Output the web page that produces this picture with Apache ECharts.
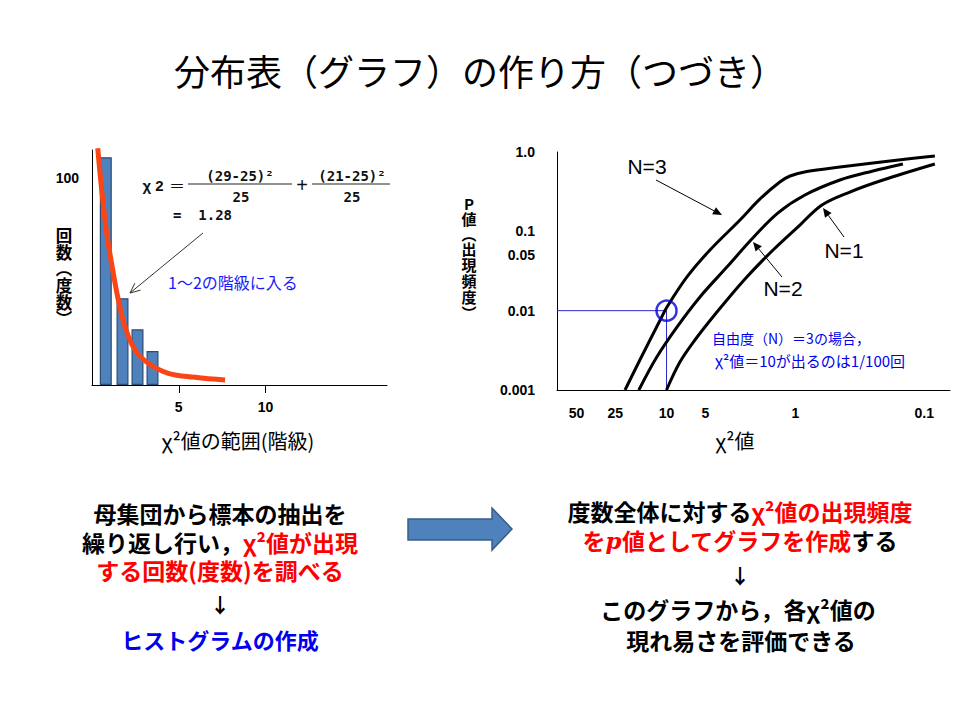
<!DOCTYPE html>
<html><head><meta charset="utf-8">
<script src="https://cdn.jsdelivr.net/npm/echarts@6/dist/echarts.min.js"></script>
<style>html,body{margin:0;padding:0;background:#fff}#c{width:960px;height:720px}</style>
</head><body><div id="c"></div>
<script>
// ---- Left: histogram of chi-square values ----
const histClassX = [0.795, 1.758, 2.622, 3.486];
const histCounts = [110, 41.9, 26.9, 16.4];
const curveX = [0.33, 0.56, 0.85, 1.23, 1.52, 1.90, 2.48, 3.24, 4.40, 5.94, 7.67];
const curveY = [114.3, 94.2, 73.3, 53.9, 41.0, 28.2, 16.9, 10.5, 5.65, 3.72, 2.41];
const histXTicks = [5, 10];
const histXTickLabels = ['5', '10'];
const histYTicks = [100];
const histYTickLabels = ['100'];

// ---- Right: p-value vs chi-square ----
const chiTicks = [50, 25, 10, 5, 1, 0.1];
const chiTickLabels = ['50', '25', '10', '5', '1', '0.1'];
const pTicks = [1, 0.1, 0.05, 0.01, 0.001];
const pTickLabels = ['1.0', '0.1', '0.05', '0.01', '0.001'];
const n3Chi = [21.0, 16.1, 11.2, 9.92, 6.94, 4.60, 2.69, 1.88, 1.32, 1.10, 0.814, 0.451, 0.250, 0.136, 0.0827];
const n3P   = [0.001, 0.00239, 0.00762, 0.0111, 0.0266, 0.0582, 0.139, 0.256, 0.418, 0.498, 0.568, 0.647, 0.727, 0.816, 0.890];
const n2Chi = [16.4, 11.9, 8.30, 5.50, 3.40, 2.14, 1.37, 0.843, 0.451, 0.250, 0.1464];
const n2P   = [0.001, 0.00261, 0.00622, 0.0149, 0.0355, 0.0824, 0.170, 0.287, 0.444, 0.576, 0.706];
const n1Chi = [10.0, 7.87, 6.02, 4.06, 2.46, 1.49, 0.922, 0.622, 0.378, 0.209, 0.0827];
const n1P   = [0.001, 0.00225, 0.00427, 0.00962, 0.0251, 0.0582, 0.120, 0.215, 0.313, 0.444, 0.706];
const markChi = 10;
const markP = 0.01;

// axis extents (log10 units) for the right chart
const chiLogMin = -1.2, chiLogMax = 1.85;
const pLogMin = -3, pLogMax = 0;

const L10 = Math.log10;
const pair = (xs, ys) => xs.map((x, i) => [x, ys[i]]);
const logPair = (xs, ys) => xs.map((x, i) => [L10(x), L10(ys[i])]);
const lookup = (ticks, labels) => v => {
  for (let i = 0; i < ticks.length; i++) if (Math.abs(L10(ticks[i]) - v) < 1e-6) return labels[i];
  return '';
};

const CJK = "'Noto Sans CJK JP', sans-serif";
const SANS = "'Liberation Sans', Arial, sans-serif";
const MONO = "'DejaVu Sans Mono', monospace";

function T(x, y, text, st, extra) {
  return Object.assign({ type: 'text', x: x, y: y, z: 100, silent: true,
    style: Object.assign({ text: text, align: 'center', verticalAlign: 'middle', fill: '#000',
      fontSize: 14, fontFamily: CJK, fontWeight: 'normal' }, st || {}) }, extra || {});
}
// upright vertical label: one glyph per text, drawn small and scaled up
function vtext(x, ys, chars, size, scale) {
  return chars.map((c, i) => T(x, ys[i], c, { fontSize: size, fontWeight: 'bold' }, { scaleX: scale, scaleY: scale }));
}
function arrow(x1, y1, x2, y2, head, color, open) {
  const a = Math.atan2(y2 - y1, x2 - x1), w = head * 0.45;
  const bx = x2 - head * Math.cos(a), by = y2 - head * Math.sin(a);
  const p1 = [bx + w * Math.sin(a), by - w * Math.cos(a)];
  const p2 = [bx - w * Math.sin(a), by + w * Math.cos(a)];
  const els = [{ type: 'line', z: 100, silent: true, shape: { x1: x1, y1: y1, x2: open ? x2 : bx, y2: open ? y2 : by },
    style: { stroke: color, lineWidth: 1 } }];
  if (open) els.push({ type: 'polyline', z: 100, silent: true, shape: { points: [p1, [x2, y2], p2] }, style: { stroke: color, lineWidth: 1, fill: null } });
  else els.push({ type: 'polygon', z: 100, silent: true, shape: { points: [p1, [x2, y2], p2] }, style: { fill: color } });
  return els;
}

const red = '#FF0000', blue = '#0000EE';
// bottom paragraphs: drawn at 16px and scaled to look 23px
const FS = 16, SC = { scaleX: 1.4375, scaleY: 1.4375 };
const boldB = { fontSize: FS, fontWeight: 'bold', fontFamily: CJK };
const richR = { r: { fill: red, fontSize: FS, fontWeight: 'bold', fontFamily: CJK },
                k: { fill: '#000', fontSize: FS, fontWeight: 'bold', fontFamily: CJK },
                ri: { fill: red, fontSize: FS, fontWeight: 'bold', fontStyle: 'italic', fontFamily: "'DejaVu Serif', serif" } };

const graphic = [
  T(480, 70, '分布表（グラフ）の作り方（つづき）', { fontSize: 36 }),
  // left chart labels
  ...vtext(64, [235, 252, 268, 285, 302, 318], ['回', '数', '︵', '度', '数', '︶'], 11, 1.5),
  T(238, 440, 'χ²値の範囲(階級)', { fontSize: 20 }),
  T(153, 185, 'χ 2', { fontSize: 15, fontWeight: 'bold', fontFamily: SANS, fill: '#111' }),
  T(177, 185, '＝', { fontSize: 16, fill: '#111' }),
  { type: 'line', z: 100, silent: true, shape: { x1: 188, y1: 184, x2: 292, y2: 184 }, style: { stroke: '#222', lineWidth: 1 } },
  T(240, 176, '(29-25)²', { fontSize: 14, fontWeight: 'bold', fontFamily: MONO, fill: '#111' }),
  T(241, 197, '25', { fontSize: 14, fontWeight: 'bold', fontFamily: MONO, fill: '#111' }),
  T(302, 185, '+', { fontSize: 20, fontFamily: SANS, fill: '#111' }),
  { type: 'line', z: 100, silent: true, shape: { x1: 312, y1: 184, x2: 390, y2: 184 }, style: { stroke: '#222', lineWidth: 1 } },
  T(352, 176, '(21-25)²', { fontSize: 14, fontWeight: 'bold', fontFamily: MONO, fill: '#111' }),
  T(352, 197, '25', { fontSize: 14, fontWeight: 'bold', fontFamily: MONO, fill: '#111' }),
  T(173, 215, '=  1.28', { align: 'left', fontSize: 14, fontWeight: 'bold', fontFamily: MONO, fill: '#111' }),
  T(168, 282, '1～2の階級に入る', { align: 'left', fontSize: 16, fill: '#1a1aff' }),
  ...arrow(203, 233, 130, 293, 10, '#333', true),
  // right chart labels
  ...vtext(469, [203, 218, 233, 248, 264, 280, 296, 312], ['P', '値', '︵', '出', '現', '頻', '度', '︶'], 10, 1.5),
  T(735, 440, 'χ²値', { fontSize: 20 }),
  T(647, 166, 'N=3', { fontSize: 21, fontFamily: SANS }),
  T(783, 288, 'N=2', { fontSize: 21, fontFamily: SANS }),
  T(844, 250, 'N=1', { fontSize: 21, fontFamily: SANS }),
  ...arrow(656, 180, 722, 215, 9, '#000', false),
  ...arrow(782, 277, 753, 242, 9, '#000', false),
  ...arrow(844, 237, 823, 208, 9, '#000', false),
  T(712, 338, '自由度（N）＝3の場合，', { align: 'left', fontSize: 14, fill: blue }),
  T(715, 360, 'χ²値＝10が出るのは1/100回', { align: 'left', fontSize: 15, fill: blue }),
  // middle block arrow
  { type: 'polygon', z: 100, silent: true,
    shape: { points: [[408, 519], [492, 519], [492, 508], [512, 529], [492, 550], [492, 540], [408, 540]] },
    style: { fill: '#4F81BD', stroke: '#385D8A', lineWidth: 1.5 } },
  // bottom left text
  T(220, 513, '母集団から標本の抽出を', boldB, SC),
  T(220, 542, '{k|繰り返し行い，}{r|χ²値が出現}', Object.assign({ rich: richR }, boldB), SC),
  T(220, 570, 'する回数(度数)を調べる', Object.assign({}, boldB, { fill: red }), SC),
  T(220, 604, '↓', Object.assign({}, boldB, { fontSize: 14 }), SC),
  T(220, 639, 'ヒストグラムの作成', Object.assign({}, boldB, { fontSize: 15.3, fill: blue }), SC),
  // bottom right text
  T(740, 511, '{k|度数全体に対する}{r|χ²値の出現頻度}', Object.assign({ rich: richR }, boldB), SC),
  T(740, 540, '{r|を}{ri|p}{r|値としてグラフを作成}{k|する}', Object.assign({ rich: richR }, boldB), SC),
  T(740, 575, '↓', Object.assign({}, boldB, { fontSize: 14 }), SC),
  T(738, 609, 'このグラフから，各χ²値の', boldB, SC),
  T(741, 640, '現れ易さを評価できる', boldB, SC)
];

const axisLabelBase = { color: '#000', fontSize: 14, fontWeight: 'bold', fontFamily: SANS };
const axLine = { show: true, onZero: false, lineStyle: { color: '#000', width: 1 } };

const option = {
  animation: false,
  backgroundColor: '#fff',
  grid: [
    { left: 92, top: 150, width: 295, height: 235, outerBoundsMode: 'none' },
    { left: 557, top: 152, width: 393, height: 238, outerBoundsMode: 'none' }
  ],
  xAxis: [
    { gridIndex: 0, type: 'value', min: 0, max: 17, axisLine: axLine,
      axisTick: { show: true, customValues: histXTicks, length: 8, lineStyle: { color: '#000' } },
      axisLabel: Object.assign({ customValues: histXTicks, margin: 15,
        formatter: v => histXTickLabels[histXTicks.indexOf(v)] }, axisLabelBase),
      splitLine: { show: false } },
    { gridIndex: 1, type: 'value', inverse: true, min: chiLogMin, max: chiLogMax, axisLine: axLine,
      axisTick: { show: false },
      axisLabel: Object.assign({ customValues: chiTicks.map(L10), margin: 16,
        formatter: lookup(chiTicks, chiTickLabels) }, axisLabelBase),
      splitLine: { show: false } }
  ],
  yAxis: [
    { gridIndex: 0, type: 'value', min: 0, max: 113.5, axisLine: axLine, axisTick: { show: false },
      axisLabel: Object.assign({ customValues: histYTicks, margin: 13,
        formatter: v => histYTickLabels[histYTicks.indexOf(v)] }, axisLabelBase),
      splitLine: { show: false } },
    { gridIndex: 1, type: 'value', min: pLogMin, max: pLogMax, axisLine: axLine, axisTick: { show: false },
      axisLabel: Object.assign({ customValues: pTicks.map(L10), margin: 22,
        formatter: lookup(pTicks, pTickLabels) }, axisLabelBase),
      splitLine: { show: false } }
  ],
  series: [
    { type: 'bar', xAxisIndex: 0, yAxisIndex: 0, barWidth: 12, data: pair(histClassX, histCounts),
      itemStyle: { color: '#4F81BD', borderColor: '#2C4D75', borderWidth: 1.2 } },
    { type: 'line', xAxisIndex: 0, yAxisIndex: 0, data: pair(curveX, curveY), smooth: 0.4, symbol: 'none',
      clip: false, z: 5, lineStyle: { color: '#FA4616', width: 5 } },
    { type: 'line', xAxisIndex: 1, yAxisIndex: 1, data: logPair(n3Chi, n3P), smooth: 0.35, symbol: 'none',
      lineStyle: { color: '#000', width: 3 } },
    { type: 'line', xAxisIndex: 1, yAxisIndex: 1, data: logPair(n2Chi, n2P), smooth: 0.35, symbol: 'none',
      lineStyle: { color: '#000', width: 3 } },
    { type: 'line', xAxisIndex: 1, yAxisIndex: 1, data: logPair(n1Chi, n1P), smooth: 0.35, symbol: 'none',
      lineStyle: { color: '#000', width: 3 } },
    { type: 'line', xAxisIndex: 1, yAxisIndex: 1, symbol: 'none', z: 1,
      data: [[chiLogMax, L10(markP)], [L10(markChi), L10(markP)], [L10(markChi), pLogMin]],
      lineStyle: { color: '#2B2BC8', width: 1 } },
    { type: 'scatter', xAxisIndex: 1, yAxisIndex: 1, symbol: 'circle', symbolSize: 20, z: 6,
      data: [[L10(markChi), L10(markP)]],
      itemStyle: { color: 'rgba(0,0,0,0)', borderColor: '#0000DD', borderWidth: 2.5 } }
  ],
  graphic: graphic
};

const chart = echarts.init(document.getElementById('c'), null, { renderer: 'svg', width: 960, height: 720 });
chart.setOption(option);
</script>
</body></html>
